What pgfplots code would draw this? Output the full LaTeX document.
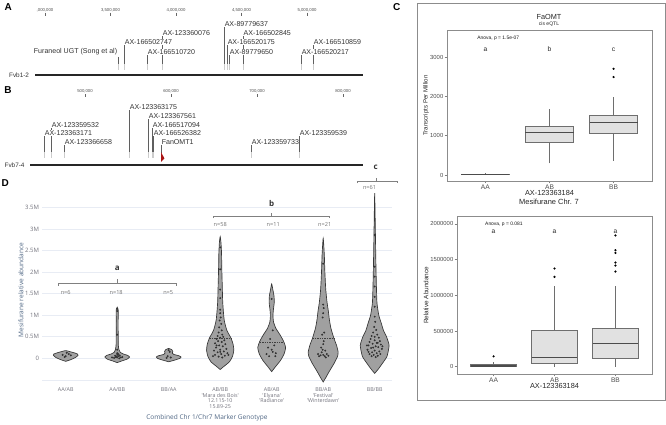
\documentclass[border=0pt]{standalone}
\usepackage{pgfplots}
\pgfplotsset{compat=1.18}
\usepackage{fontspec}
\setmainfont{Liberation Sans}
\newfontfamily\opensans{Open Sans}
\definecolor{gridc}{RGB}{232,236,244}
\definecolor{titc}{RGB}{80,103,132}
\definecolor{tickc}{RGB}{115,115,125}
\definecolor{violf}{RGB}{160,160,160}
\definecolor{viold}{RGB}{55,55,55}
\definecolor{boxf}{RGB}{225,225,225}
\definecolor{boxd}{RGB}{110,110,110}
\definecolor{mkline}{RGB}{95,95,95}
\definecolor{flag}{RGB}{170,20,20}
\newcommand{\fs}[1]{\fontsize{#1}{#1}\selectfont}
\tikzset{
  lab/.style={font=\fs{5.3}, fill=white, inner sep=0.4pt, text=black!80},
  mk/.style={mkline, line width=0.5pt},
  mkf/.style={black!20, line width=0.5pt},
  viol/.style={fill=violf, draw=viold, line width=0.5pt, smooth, tension=0.35},
  brk/.style={black!50, line width=0.5pt},
  meanl/.style={black!75, line width=0.4pt, dash pattern=on 1pt off 0.8pt},
  bxs/.style={fill=boxf, draw=boxd, line width=0.5pt},
  whs/.style={boxd, line width=0.5pt},
  meds/.style={black!70, line width=1.1pt},
}
\pgfplotsset{
  pts/.style={only marks, mark=*, mark size=0.5pt, black!80},
}
\begin{document}
\begin{tikzpicture}
\useasboundingbox (0,0) rectangle (499.5pt,-318pt);
% panel letters
\node[font=\bfseries\fs{7.5}] at (6.2pt,-5pt) {A};
\node[font=\bfseries\fs{7.5}] at (6pt,-67.5pt) {B};
\node[font=\bfseries\fs{7.5}] at (297.5pt,-5pt) {C};
\node[font=\bfseries\fs{7.5}] at (3.9pt,-137.5pt) {D};

% ---------- Panel A ----------
\begin{axis}[
  at={(0pt,-12pt)}, anchor=north west, scale only axis,
  width=277.5pt, height=48pt,
  xmin=2656489, xmax=5480916, ymin=16, ymax=80, y dir=reverse,
  axis x line=top, axis y line=none,
  x axis line style={draw=none},
  xtick={3000000,3500000,4000000,4500000,5000000},
  xticklabels={{,000,000},{3,500,000},{4,000,000},{4,500,000},{5,000,000}},
  scaled x ticks=false,
  tick align=outside, major tick length=2.5pt,
  tick style={black!60, line width=0.4pt},
  xticklabel style={font=\fs{3.2}, text=black!70, inner sep=0.5pt},
  clip=false,
]
\addplot[mk] coordinates {(3557000,57)(3557000,64)};
\addplot[mkf] coordinates {(3557000,64)(3557000,70)};
\addplot[mk] coordinates {(3603000,41.3)(3603000,64)};
\addplot[mkf] coordinates {(3603000,64)(3603000,70)};
\addplot[mk] coordinates {(3779000,50.7)(3779000,64)};
\addplot[mkf] coordinates {(3779000,64)(3779000,70)};
\addplot[mk] coordinates {(3893000,32.3)(3893000,64)};
\addplot[mkf] coordinates {(3893000,64)(3893000,70)};
\addplot[mk] coordinates {(4366000,23.3)(4366000,64)};
\addplot[mkf] coordinates {(4366000,64)(4366000,70)};
\addplot[mk] coordinates {(4389000,41.3)(4389000,64)};
\addplot[mkf] coordinates {(4389000,64)(4389000,70)};
\addplot[mk] coordinates {(4405000,50.7)(4405000,64)};
\addplot[mkf] coordinates {(4405000,64)(4405000,70)};
\addplot[mk] coordinates {(4511000,32.3)(4511000,64)};
\addplot[mkf] coordinates {(4511000,64)(4511000,70)};
\addplot[mk] coordinates {(4954000,50.7)(4954000,64)};
\addplot[mkf] coordinates {(4954000,64)(4954000,70)};
\addplot[mk] coordinates {(5046000,41.3)(5046000,64)};
\addplot[mkf] coordinates {(5046000,64)(5046000,70)};
\addplot[black!85, line width=1.4pt] coordinates {(2924000,75)(5427000,75)};
\node[anchor=east, font=\fs{4.8}, text=black!80, inner sep=0pt] at (axis cs:2880000,75) {Fvb1-2};
\node[lab, anchor=east] at (axis cs:3557000,51.7) {Furaneol UGT (Song et al)};
\node[lab, anchor=west] at (axis cs:4366000,24.3) {AX-89779637};
\node[lab, anchor=west] at (axis cs:3893000,33.3) {AX-123360076};
\node[lab, anchor=west] at (axis cs:4511000,33.3) {AX-166502845};
\node[lab, anchor=west] at (axis cs:3603000,42.3) {AX-166502747};
\node[lab, anchor=west] at (axis cs:4389000,42.3) {AX-166520175};
\node[lab, anchor=west] at (axis cs:5046000,42.3) {AX-166510859};
\node[lab, anchor=west] at (axis cs:3779000,51.7) {AX-166510720};
\node[lab, anchor=west] at (axis cs:4405000,51.7) {AX-89779650};
\node[lab, anchor=west] at (axis cs:4954000,51.7) {AX-166520217};
\end{axis}

% ---------- Panel B ----------
\begin{axis}[
  at={(0pt,-72.75pt)}, anchor=north west, scale only axis,
  width=277.5pt, height=54.75pt,
  xmin=401163, xmax=831395, ymin=97, ymax=170, y dir=reverse,
  axis x line=top, axis y line=none,
  x axis line style={draw=none},
  xtick={500000,600000,700000,800000},
  xticklabels={{500,000},{600,000},{700,000},{800,000}},
  scaled x ticks=false,
  tick align=outside, major tick length=2.2pt,
  tick style={black!60, line width=0.4pt},
  xticklabel style={font=\fs{3.2}, text=black!70, inner sep=0.5pt},
  clip=false,
]
\addplot[mk] coordinates {(551163,106.3)(551163,152)};
\addplot[mkf] coordinates {(551163,152)(551163,158)};
\addplot[mk] coordinates {(573256,115)(573256,152)};
\addplot[mkf] coordinates {(573256,152)(573256,158)};
\addplot[mk] coordinates {(460465,123.7)(460465,152)};
\addplot[mkf] coordinates {(460465,152)(460465,158)};
\addplot[mk] coordinates {(577907,123.7)(577907,152)};
\addplot[mkf] coordinates {(577907,152)(577907,158)};
\addplot[mk] coordinates {(452326,132.3)(452326,152)};
\addplot[mkf] coordinates {(452326,152)(452326,158)};
\addplot[mk] coordinates {(579070,132.3)(579070,152)};
\addplot[mkf] coordinates {(579070,152)(579070,158)};
\addplot[mk] coordinates {(748837,132.3)(748837,152)};
\addplot[mkf] coordinates {(748837,152)(748837,158)};
\addplot[mk] coordinates {(475581,141.3)(475581,152)};
\addplot[mkf] coordinates {(475581,152)(475581,158)};
\addplot[mk] coordinates {(588372,141.3)(588372,153)};
\addplot[mk] coordinates {(693023,141.3)(693023,152)};
\addplot[mkf] coordinates {(693023,152)(693023,158)};
\addplot[fill=flag, draw=none] coordinates {(588372,152)(588372,162)(592400,158.5)} --cycle;
\addplot[black!85, line width=1.4pt] coordinates {(436047,165)(823256,165)};
\node[anchor=east, font=\fs{4.8}, text=black!80, inner sep=0pt] at (axis cs:430000,165) {Fvb7-4};
\node[lab, anchor=west] at (axis cs:551163,107.3) {AX-123363175};
\node[lab, anchor=west] at (axis cs:573256,116) {AX-123367561};
\node[lab, anchor=west] at (axis cs:460465,124.7) {AX-123359532};
\node[lab, anchor=west] at (axis cs:577907,124.7) {AX-166517094};
\node[lab, anchor=west] at (axis cs:452326,133.3) {AX-123363171};
\node[lab, anchor=west] at (axis cs:579070,133.3) {AX-166526382};
\node[lab, anchor=west] at (axis cs:748837,133.3) {AX-123359539};
\node[lab, anchor=west] at (axis cs:475581,142.3) {AX-123366658};
\node[lab, anchor=west] at (axis cs:588372,142.3) {FanOMT1};
\node[lab, anchor=west] at (axis cs:693023,142.3) {AX-123359733};
\end{axis}

% ---------- Panel C frame and titles ----------
\draw[black!45, line width=0.75pt] (312.75pt,-3pt) rectangle (498.75pt,-300pt);
\node[font=\fs{5.5}, text=black!85] at (411.75pt,-12.75pt) {FaOMT};
\node[font=\fs{3.8}, text=black!85] at (411.75pt,-18pt) {cis eQTL};
\node[font=\fs{5.6}, text=black!85] at (411.75pt,-151.5pt) {Mesifurane Chr. 7};

% ---------- Panel C top ----------
\begin{axis}[
  at={(335.25pt,-22.5pt)}, anchor=north west, scale only axis,
  width=153.75pt, height=113.25pt,
  xmin=0.4, xmax=3.6, ymin=-153, ymax=3690,
  xtick={1,2,3}, xticklabels={AA,AB,BB},
  ytick={0,1000,2000,3000}, yticklabels={0,1000,2000,3000},
  tick pos=left,
  axis line style={black!45, line width=0.5pt},
  tick align=outside, major tick length=1.8pt, tick style={black!50, line width=0.4pt},
  xticklabel style={font=\fs{5}, text=black!70, inner sep=0.6pt},
  yticklabel style={font=\fs{4.4}, text=black!70, inner sep=0.8pt},
  clip=false,
]
% AA
\addplot[whs] coordinates {(1,0)(1,45)};
\addplot[bxs] coordinates {(0.625,8)(1.375,8)(1.375,28)(0.625,28)} --cycle;
\addplot[meds] coordinates {(0.625,18)(1.375,18)};
% AB
\addplot[whs] coordinates {(2,297)(2,822)};
\addplot[whs] coordinates {(2,1229)(2,1670)};
\addplot[bxs] coordinates {(1.625,822)(2.375,822)(2.375,1229)(1.625,1229)} --cycle;
\addplot[meds] coordinates {(1.625,1085)(2.375,1085)};
% BB
\addplot[whs] coordinates {(3,364)(3,1051)};
\addplot[whs] coordinates {(3,1517)(3,1992)};
\addplot[bxs] coordinates {(2.625,1051)(3.375,1051)(3.375,1517)(2.625,1517)} --cycle;
\addplot[meds] coordinates {(2.625,1331)(3.375,1331)};
\addplot[only marks, mark=*, mark size=0.6pt, black] coordinates {(3,2703)(3,2492)};
\node[font=\fs{3.7}, text=black!90] at (axis cs:1.2,3475) {Anova, p = 1.5e-07};
\node[font=\fs{5}, text=black!85] at (axis cs:1,3195) {a};
\node[font=\fs{5}, text=black!85] at (axis cs:2,3195) {b};
\node[font=\fs{5}, text=black!85] at (axis cs:3,3195) {c};
\node[font=\fs{4.6}, text=black!85, rotate=90] at (rel axis cs:-0.102,0.5) {Transcripts Per Million};
\node[font=\fs{5.5}, text=black!85] at (rel axis cs:0.5,-0.08) {AX-123363184};
\end{axis}

% ---------- Panel C bottom (values in thousands) ----------
\begin{axis}[
  at={(342.75pt,-162.5pt)}, anchor=north west, scale only axis,
  width=146.25pt, height=118pt,
  xmin=0.4, xmax=3.6, ymin=-102, ymax=2100,
  xtick={1,2,3}, xticklabels={AA,AB,BB},
  ytick={0,500,1000,1500,2000},
  yticklabels={0,500000,1000000,1500000,2000000},
  tick pos=left,
  axis line style={black!45, line width=0.5pt},
  tick align=outside, major tick length=1.8pt, tick style={black!50, line width=0.4pt},
  xticklabel style={font=\fs{5}, text=black!70, inner sep=0.6pt},
  yticklabel style={font=\fs{4.4}, text=black!70, inner sep=0.8pt},
  clip=false,
]
% AA
\addplot[whs] coordinates {(1,32.7)(1,60)};
\addplot[bxs] coordinates {(0.625,0)(1.375,0)(1.375,32.7)(0.625,32.7)} --cycle;
\addplot[meds] coordinates {(0.625,9)(1.375,9)};
% AB
\addplot[whs] coordinates {(2,0)(2,46.7)};
\addplot[whs] coordinates {(2,504.7)(2,1131)};
\addplot[bxs] coordinates {(1.625,46.7)(2.375,46.7)(2.375,504.7)(1.625,504.7)} --cycle;
\addplot[meds] coordinates {(1.625,126)(2.375,126)};
% BB
\addplot[whs] coordinates {(3,0)(3,112)};
\addplot[whs] coordinates {(3,537)(3,1131)};
\addplot[bxs] coordinates {(2.625,112)(3.375,112)(3.375,537)(2.625,537)} --cycle;
\addplot[meds] coordinates {(2.625,322)(3.375,322)};
\addplot[only marks, mark=*, mark size=0.6pt, black] coordinates {(1,145)(2,1374)(2,1257)(3,1837)(3,1631)(3,1593)(3,1458)(3,1416)(3,1332)};
\node[font=\fs{3.7}, text=black!90] at (axis cs:1.17,2000) {Anova, p = 0.081};
\node[font=\fs{5}, text=black!85] at (axis cs:1,1893) {a};
\node[font=\fs{5}, text=black!85] at (axis cs:2,1893) {a};
\node[font=\fs{5}, text=black!85] at (axis cs:3,1893) {a};
\node[font=\fs{4.8}, text=black!85, rotate=90] at (rel axis cs:-0.159,0.5) {Relative Abundance};
\node[font=\fs{5.5}, text=black!85] at (rel axis cs:0.5,-0.077) {AX-123363184};
\end{axis}

% ---------- Panel D ----------
\begin{axis}[
  at={(31.5pt,-149.4pt)}, anchor=north west, scale only axis,
  width=262.65pt, height=138.7pt,
  xmin=-0.46, xmax=6.34, ymin=-0.6, ymax=3.7,
  axis line style={draw=none},
  ymajorgrids, grid style={gridc, line width=0.5pt},
  major tick length=0pt,
  xtick={0,1,2,3,4,5,6},
  xticklabels={AA/AB,AA/BB,BB/AA,{AB/BB\\'Mara des Bois'\\12.115-10\\15.89-25},{AB/AB\\'Elyana'\\'Radiance'},{BB/AB\\'Festival'\\'Winterdawn'},BB/BB},
  ytick={-0.5,0,0.5,1,1.5,2,2.5,3,3.5},
  yticklabels={{},0,0.5M,1M,1.5M,2M,2.5M,3M,3.5M},
  xticklabel style={font=\opensans\fontsize{4}{4.2}\selectfont, text=tickc, align=center, anchor=north, inner sep=0.5pt, yshift=-2pt},
  yticklabel style={font=\opensans\fs{4.5}, text=tickc, inner sep=0.5pt, xshift=-1.5pt},
  clip=false,
]
% violins
\addplot[viol] coordinates {(0,-0.07)(0.1,-0.03)(0.19,0.02)(0.24,0.07)(0.23,0.1)(0.16,0.13)(0.07,0.16)(0,0.18)(-0.07,0.16)(-0.16,0.13)(-0.23,0.1)(-0.24,0.07)(-0.19,0.02)(-0.1,-0.03)} --cycle;
\addplot[viol] coordinates {(1,-0.1)(1.09,-0.06)(1.19,-0.02)(1.24,0.03)(1.2,0.07)(1.12,0.1)(1.06,0.14)(1.035,0.2)(1.022,0.3)(1.02,0.5)(1.018,0.8)(1.02,1.0)(1.02,1.12)(1,1.19)(0.98,1.12)(0.98,1.0)(0.982,0.8)(0.98,0.5)(0.978,0.3)(0.965,0.2)(0.94,0.14)(0.88,0.1)(0.8,0.07)(0.76,0.03)(0.81,-0.02)(0.91,-0.06)} --cycle;
\addplot[viol] coordinates {(2,-0.08)(2.12,-0.04)(2.22,0)(2.24,0.03)(2.2,0.06)(2.1,0.09)(2.07,0.12)(2.08,0.16)(2.06,0.2)(2,0.23)(1.94,0.2)(1.92,0.16)(1.93,0.12)(1.9,0.09)(1.8,0.06)(1.76,0.03)(1.78,0)(1.88,-0.04)} --cycle;
\addplot[viol] coordinates {(3,-0.26)(3.08,-0.18)(3.18,-0.08)(3.24,0.05)(3.265,0.19)(3.25,0.33)(3.21,0.47)(3.13,0.65)(3.078,0.89)(3.05,1.29)(3.04,1.7)(3.032,2.05)(3.026,2.45)(3.015,2.7)(3,2.83)(2.985,2.7)(2.974,2.45)(2.968,2.05)(2.96,1.7)(2.95,1.29)(2.922,0.89)(2.87,0.65)(2.79,0.47)(2.75,0.33)(2.735,0.19)(2.76,0.05)(2.82,-0.08)(2.92,-0.18)} --cycle;
\addplot[viol] coordinates {(4,-0.31)(4.07,-0.2)(4.17,-0.05)(4.24,0.1)(4.27,0.25)(4.23,0.4)(4.16,0.55)(4.08,0.7)(4.035,0.85)(4.025,1.0)(4.035,1.15)(4.05,1.3)(4.045,1.45)(4.022,1.6)(4,1.73)(3.978,1.6)(3.955,1.45)(3.95,1.3)(3.965,1.15)(3.975,1.0)(3.965,0.85)(3.92,0.7)(3.84,0.55)(3.77,0.4)(3.73,0.25)(3.76,0.1)(3.83,-0.05)(3.93,-0.2)} --cycle;
\addplot[viol] coordinates {(5,-0.55)(5.05,-0.45)(5.12,-0.3)(5.22,-0.1)(5.28,0.05)(5.29,0.15)(5.26,0.3)(5.21,0.46)(5.15,0.7)(5.12,0.9)(5.1,1.1)(5.075,1.3)(5.05,1.6)(5.033,2.0)(5.022,2.4)(5,2.79)(4.978,2.4)(4.967,2.0)(4.95,1.6)(4.925,1.3)(4.9,1.1)(4.88,0.9)(4.85,0.7)(4.79,0.46)(4.74,0.3)(4.71,0.15)(4.72,0.05)(4.78,-0.1)(4.88,-0.3)(4.95,-0.45)} --cycle;
\addplot[viol] coordinates {(6,-0.35)(6.07,-0.25)(6.16,-0.1)(6.24,0.05)(6.28,0.3)(6.23,0.5)(6.17,0.65)(6.13,0.81)(6.08,1.0)(6.045,1.28)(6.035,1.6)(6.026,2.05)(6.018,2.6)(6.01,3.2)(6,3.84)(5.99,3.2)(5.982,2.6)(5.974,2.05)(5.965,1.6)(5.955,1.28)(5.92,1.0)(5.87,0.81)(5.83,0.65)(5.77,0.5)(5.72,0.3)(5.76,0.05)(5.84,-0.1)(5.93,-0.25)} --cycle;
% mean lines
\addplot[meanl] coordinates {(2.79,0.47)(3.21,0.47)};
\addplot[meanl] coordinates {(3.77,0.38)(4.23,0.38)};
\addplot[meanl] coordinates {(4.79,0.46)(5.21,0.46)};
% points
\addplot[pts] coordinates {(0,0.05)(-0.06,0.08)(0.06,0.1)(0.02,0.13)(-0.02,0.03)(0.1,0.07)};
\addplot[pts] coordinates {(1,1.15)(1,1.1)(1,0.55)(1,0.2)(1,0.12)(1.03,0.05)(0.97,0.03)(1,0.02)(0.94,0.01)(1.07,0.02)(1.0,0.08)(0.96,0.06)(1.04,0.0)(1.1,0.03)(0.9,0.02)(1.02,0.1)(0.99,0.04)(1.05,0.07)};
\addplot[pts] coordinates {(2,0.19)(2.02,0.15)(1.98,0.05)(2.04,0.02)(1.96,0.01)};
\addplot[pts] coordinates {(3,2.58)(3,2.07)(3,1.6)(3,1.4)(3,1.13)(3,1.05)(3.01,0.95)(2.99,0.88)(3.02,0.8)(2.98,0.72)(3.03,0.65)(2.97,0.6)(3.04,0.55)(2.95,0.52)(3.06,0.5)(3.0,0.48)(2.93,0.45)(3.08,0.42)(2.96,0.4)(3.03,0.38)(2.9,0.35)(3.1,0.33)(2.98,0.3)(3.05,0.28)(2.92,0.25)(3.12,0.22)(3.0,0.2)(2.88,0.18)(3.07,0.16)(2.95,0.14)(3.14,0.12)(3.02,0.1)(2.9,0.08)(3.09,0.06)(2.97,0.04)(3.04,0.02)(2.86,0.05)(3.16,0.08)(3.0,0.15)(2.93,0.3)};
\addplot[pts] coordinates {(4,1.38)(4.02,0.65)(3.97,0.45)(4.05,0.3)(3.93,0.25)(4.02,0.15)(3.95,0.05)(4.07,0.05)(4.0,0.2)(4.08,0.12)(3.9,0.1)};
\addplot[pts] coordinates {(5,2.2)(5,1.25)(5.01,1.17)(5,1.05)(4.99,0.95)(5.02,0.6)(4.98,0.55)(5,0.33)(4.99,0.2)(4.95,0.07)(5.03,0.05)(5.07,0.1)(4.92,0.05)(5.05,0.02)(4.97,0.14)(5.1,0.06)(4.9,0.1)(5.01,0.4)(4.96,0.25)(5.04,0.18)(5.0,0.08)};
\addplot[pts] coordinates {(6,2.87)(6,2.13)(6,1.9)(6,1.67)(6,1.43)(6,1.2)(6,0.97)(6.01,0.85)(5.99,0.73)(6.03,0.66)(5.97,0.6)(6.05,0.55)(5.94,0.52)(6.08,0.48)(5.92,0.45)(6.0,0.42)(6.1,0.4)(5.9,0.38)(6.04,0.36)(5.96,0.34)(6.12,0.32)(5.88,0.3)(6.02,0.28)(6.07,0.26)(5.93,0.24)(6.14,0.22)(5.86,0.2)(6.0,0.18)(6.09,0.16)(5.95,0.14)(6.04,0.12)(5.9,0.1)(6.11,0.1)(5.98,0.08)(6.06,0.06)(5.94,0.05)(6.02,0.03)(5.88,0.15)(6.15,0.28)(5.85,0.3)(6.0,0.5)(6.06,0.36)(5.97,0.25)};
% brackets
\addplot[brk] coordinates {(-0.15,1.69)(-0.15,1.75)(2.14,1.75)(2.14,1.69)};
\addplot[brk] coordinates {(1,1.75)(1,1.84)};
\addplot[brk] coordinates {(2.86,3.26)(2.86,3.31)(5.12,3.31)(5.12,3.26)};
\addplot[brk] coordinates {(4,3.31)(4,3.39)};
\addplot[brk] coordinates {(5.66,4.07)(5.66,4.12)(6.43,4.12)(6.43,4.07)};
\addplot[brk] coordinates {(6.04,4.12)(6.04,4.2)};
\node[font=\opensans\bfseries\fs{6}, text=black!80] at (axis cs:1,2.10) {a};
\node[font=\opensans\bfseries\fs{6}, text=black!80] at (axis cs:4,3.61) {b};
\node[font=\opensans\bfseries\fs{6}, text=black!80] at (axis cs:6.02,4.44) {c};
\node[font=\opensans\fs{4.2}, text=black!55] at (axis cs:0,1.52) {n=6};
\node[font=\opensans\fs{4.2}, text=black!55] at (axis cs:0.98,1.52) {n=18};
\node[font=\opensans\fs{4.2}, text=black!55] at (axis cs:1.99,1.52) {n=5};
\node[font=\opensans\fs{4.2}, text=black!55] at (axis cs:3,3.12) {n=58};
\node[font=\opensans\fs{4.2}, text=black!55] at (axis cs:4.03,3.12) {n=11};
\node[font=\opensans\fs{4.2}, text=black!55] at (axis cs:5.03,3.12) {n=21};
\node[font=\opensans\fs{4.2}, text=black!55] at (axis cs:5.9,3.98) {n=61};
\node[font=\opensans\fs{4.9}, text=titc] at (rel axis cs:0.471,-0.183) {Combined Chr 1/Chr7 Marker Genotype};
\node[font=\opensans\fs{4.9}, text=titc, rotate=90] at (rel axis cs:-0.06,0.509) {Mesifurane relative abundance};
\end{axis}
\end{tikzpicture}
\end{document}
